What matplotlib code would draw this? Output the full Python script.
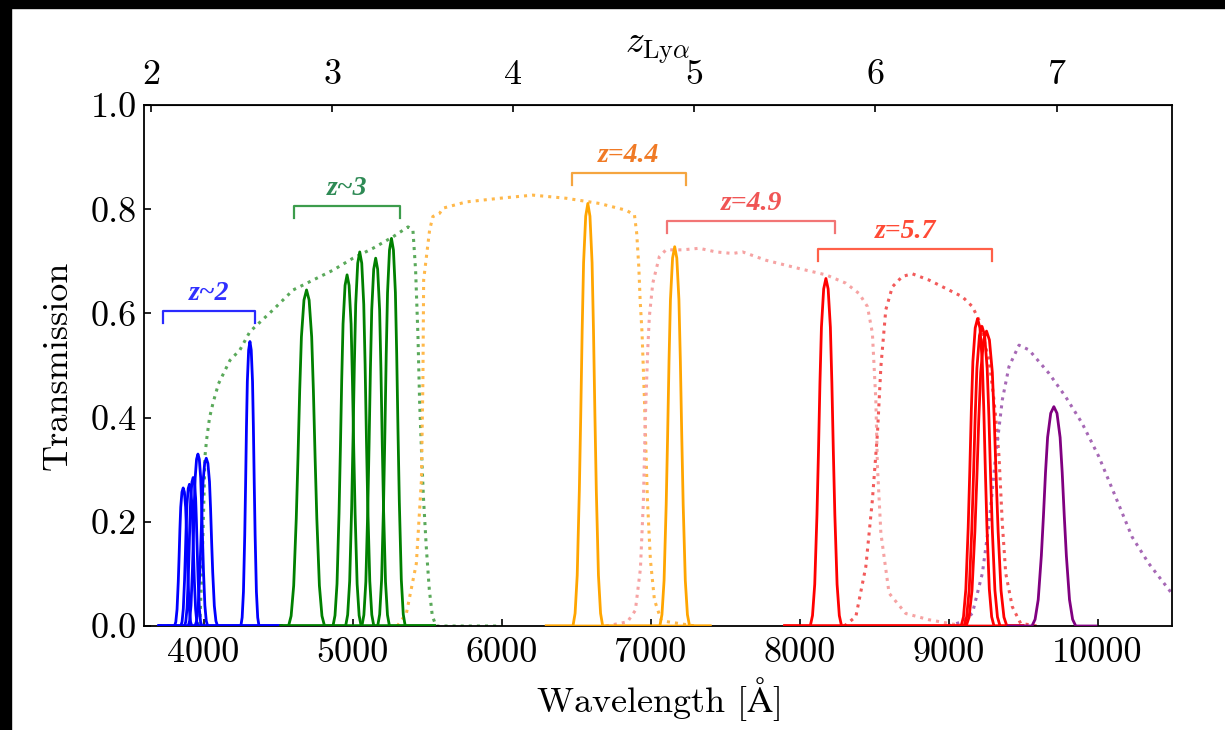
import matplotlib
matplotlib.use('Agg')
import matplotlib.pyplot as plt
from matplotlib.patches import Rectangle

plt.rcParams['font.family'] = 'cmr10'
plt.rcParams['mathtext.fontset'] = 'cm'
plt.rcParams['axes.formatter.use_mathtext'] = True

LYA = 1215.67

# shape of one narrow-band filter: offset from centre (in FWHM) and relative throughput
profile_dx = [-1.05, -0.9, -0.75, -0.6, -0.5, -0.4, -0.3, -0.15, 0.0,
              0.15, 0.3, 0.4, 0.5, 0.6, 0.75, 0.9, 1.05]
profile_t = [0.0, 0.03, 0.12, 0.32, 0.5, 0.7, 0.86, 0.97, 1.0,
             0.97, 0.86, 0.7, 0.5, 0.32, 0.12, 0.03, 0.0]

# narrow bands: centre [A], FWHM [A], peak transmission
blue_centre = [3863, 3905, 3930, 3962, 4018, 4311]
blue_fwhm = [55, 55, 55, 62, 72, 58]
blue_peak = [0.265, 0.272, 0.285, 0.330, 0.322, 0.546]

green_centre = [4691, 4963, 5048, 5155, 5261]
green_fwhm = [115, 90, 90, 88, 88]
green_peak = [0.645, 0.674, 0.718, 0.706, 0.744]

orange_centre = [6579, 7162]
orange_fwhm = [95, 95]
orange_peak = [0.811, 0.728]

red_centre = [8177, 9195, 9225, 9255]
red_fwhm = [100, 105, 115, 130]
red_peak = [0.667, 0.590, 0.575, 0.566]

purple_centre = [9707]
purple_fwhm = [140]
purple_peak = [0.421]

# broad bands (dotted)
green_bb_wave = [3700, 3960, 3975, 3990, 4000, 4009, 4020, 4040, 4065, 4100, 4177, 4244,
                 4311, 4467, 4601, 4735, 4869, 5003, 5137, 5271, 5372, 5405, 5423, 5439,
                 5450, 5462, 5475, 5495, 5515, 5535, 5560, 6000]
green_bb_t = [0.0, 0.0, 0.005, 0.12, 0.22, 0.325, 0.357, 0.40, 0.43, 0.465, 0.51, 0.53,
              0.565, 0.607, 0.645, 0.664, 0.683, 0.706, 0.725, 0.747, 0.766, 0.76, 0.683, 0.555,
              0.43, 0.34, 0.25, 0.15, 0.07, 0.02, 0.0, 0.0]

orange_bb_wave = [5300, 5361, 5428, 5462, 5472, 5477, 5517, 5539, 5584, 5607, 5763, 5987,
                  6210, 6434, 6657, 6836, 6892, 6907, 6921, 6930, 6943, 6959, 6979, 6999,
                  7026, 7073, 7300]
orange_bb_t = [0.0, 0.024, 0.12, 0.28, 0.47, 0.664, 0.76, 0.786, 0.792, 0.802, 0.814, 0.821,
               0.827, 0.821, 0.811, 0.798, 0.789, 0.754, 0.69, 0.626, 0.562, 0.434, 0.242, 0.127,
               0.05, 0.01, 0.0]

pink_bb_wave = [6700, 6845, 6898, 6932, 6952, 6965, 6981, 6992, 7015, 7059, 7104, 7215,
                7327, 7439, 7551, 7618, 7775, 7999, 8177, 8311, 8400, 8456, 8489, 8512,
                8523, 8546, 8601, 8713, 8869, 9003, 9100]
pink_bb_t = [0.0, 0.008, 0.03, 0.11, 0.24, 0.40, 0.53, 0.594, 0.658, 0.709, 0.722, 0.722,
             0.725, 0.718, 0.715, 0.718, 0.702, 0.686, 0.674, 0.658, 0.638, 0.613, 0.562, 0.434,
             0.306, 0.178, 0.063, 0.024, 0.012, 0.005, 0.0]

red_bb_wave = [8300, 8378, 8445, 8489, 8523, 8546, 8579, 8623, 8690, 8757, 8869, 8981,
               9093, 9160, 9205, 9272, 9305, 9325, 9339, 9361, 9384, 9428, 9484, 9600]
red_bb_t = [0.0, 0.018, 0.114, 0.242, 0.37, 0.498, 0.607, 0.651, 0.671, 0.676, 0.664, 0.648,
            0.632, 0.613, 0.587, 0.51, 0.434, 0.376, 0.325, 0.197, 0.101, 0.037, 0.005, 0.0]

purple_bb_wave = [9000, 9090, 9160, 9227, 9272, 9316, 9361, 9406, 9473, 9540, 9674, 9786,
                  9897, 10009, 10121, 10232, 10344, 10492, 10600]
purple_bb_t = [0.0, 0.008, 0.024, 0.101, 0.197, 0.325, 0.434, 0.498, 0.539, 0.53, 0.485, 0.44,
               0.389, 0.325, 0.248, 0.171, 0.12, 0.065, 0.04]

# redshift brackets
bracket_text = ['z~2', 'z~3', 'z=4.4', 'z=4.9', 'z=5.7']
bracket_lo = [3729, 4608, 6471, 7111, 8127]
bracket_hi = [4344, 5316, 7238, 8239, 9290]
bracket_level = [0.605, 0.806, 0.869, 0.777, 0.723]

x_ticks = [4000, 5000, 6000, 7000, 8000, 9000, 10000]
y_ticks = [0.0, 0.2, 0.4, 0.6, 0.8, 1.0]
z_ticks = [2, 3, 4, 5, 6, 7]


def draw_narrow(ax, centres, fwhms, peaks, lo, hi, color):
    for c, w, p in zip(centres, fwhms, peaks):
        xs = [lo] + [c + w * d for d in profile_dx] + [hi]
        ys = [0.0] + [p * t for t in profile_t] + [0.0]
        ax.plot(xs, ys, color=color, lw=2.0, zorder=3)


fig = plt.figure(figsize=(12.25, 7.3), dpi=100)
ax = fig.add_axes([144 / 1225, 1 - 626 / 730, 1028 / 1225, 521 / 730])

# broad bands underneath
ax.plot(green_bb_wave, green_bb_t, ls=':', lw=2.2, color='#5aa95a', zorder=2)
ax.plot(orange_bb_wave, orange_bb_t, ls=':', lw=2.2, color='#ffb84a', zorder=2)
ax.plot(pink_bb_wave, pink_bb_t, ls=':', lw=2.2, color='#f6a3a3', zorder=2)
ax.plot(red_bb_wave, red_bb_t, ls=':', lw=2.2, color='#f25a5a', zorder=2)
ax.plot(purple_bb_wave, purple_bb_t, ls=':', lw=2.2, color='#a668b5', zorder=2)

# narrow bands
draw_narrow(ax, blue_centre, blue_fwhm, blue_peak, 3700, 4520, 'blue')
draw_narrow(ax, green_centre, green_fwhm, green_peak, 4520, 5550, 'green')
draw_narrow(ax, orange_centre, orange_fwhm, orange_peak, 6300, 7400, 'orange')
draw_narrow(ax, red_centre, red_fwhm, red_peak, 7900, 9500, 'red')
draw_narrow(ax, purple_centre, purple_fwhm, purple_peak, 9400, 9990, 'purple')

# brackets with redshift labels
line_colors = ['#2a2aff', '#3c9c4c', '#f5a540', '#f27575', '#ff6048']
text_colors = ['#3030ff', '#2e8a55', '#f07a25', '#f05555', '#ff4a35']
for lab, lo, hi, lev, lc, tc in zip(bracket_text, bracket_lo, bracket_hi, bracket_level,
                                    line_colors, text_colors):
    ax.plot([lo, lo, hi, hi], [lev - 0.023, lev, lev, lev - 0.023], color=lc, lw=1.6, zorder=4)
    ax.text((lo + hi) / 2, lev + 0.034, lab, color=tc, ha='center', va='center',
            family='Liberation Serif', style='italic', weight='bold', fontsize=20)

ax.set_xlim(3600, 10500)
ax.set_ylim(0, 1.0)
ax.set_xticks(x_ticks)
ax.set_xticklabels([str(v) for v in x_ticks])
ax.set_yticks(y_ticks)
ax.set_yticklabels(['%.1f' % v for v in y_ticks])
ax.tick_params(direction='in', length=5, width=1.2, labelsize=26, top=False, right=False)
ax.tick_params(axis='x', pad=8)
ax.tick_params(axis='y', pad=5)
for sp in ax.spines.values():
    sp.set_linewidth(1.3)

ax.set_xlabel(r'Wavelength [$\mathrm{\AA}$]', fontsize=26)
ax.set_ylabel('Transmission', fontsize=26)
ax.xaxis.set_label_coords(0.5, -0.095)
ax.yaxis.set_label_coords(-0.068, 0.5)

# Lyman-alpha redshift on top
top = ax.secondary_xaxis('top', functions=(lambda w: w / LYA - 1, lambda z: (z + 1) * LYA))
top.set_xticks(z_ticks)
top.set_xticklabels([str(z) for z in z_ticks])
top.tick_params(direction='in', length=5, width=1.2, labelsize=26, pad=10)
top.set_xlabel(r'$z_{\rm Ly\alpha}$', fontsize=27, labelpad=5)

# black frame strips along the top and left edge
fig.add_artist(Rectangle((0, 1 - 8 / 730), 1, 8 / 730, transform=fig.transFigure,
                         color='black', zorder=10))
fig.add_artist(Rectangle((0, 0), 11 / 1225, 1, transform=fig.transFigure,
                         color='black', zorder=10))

fig.savefig('out.png', dpi=100)
plt.close(fig)
